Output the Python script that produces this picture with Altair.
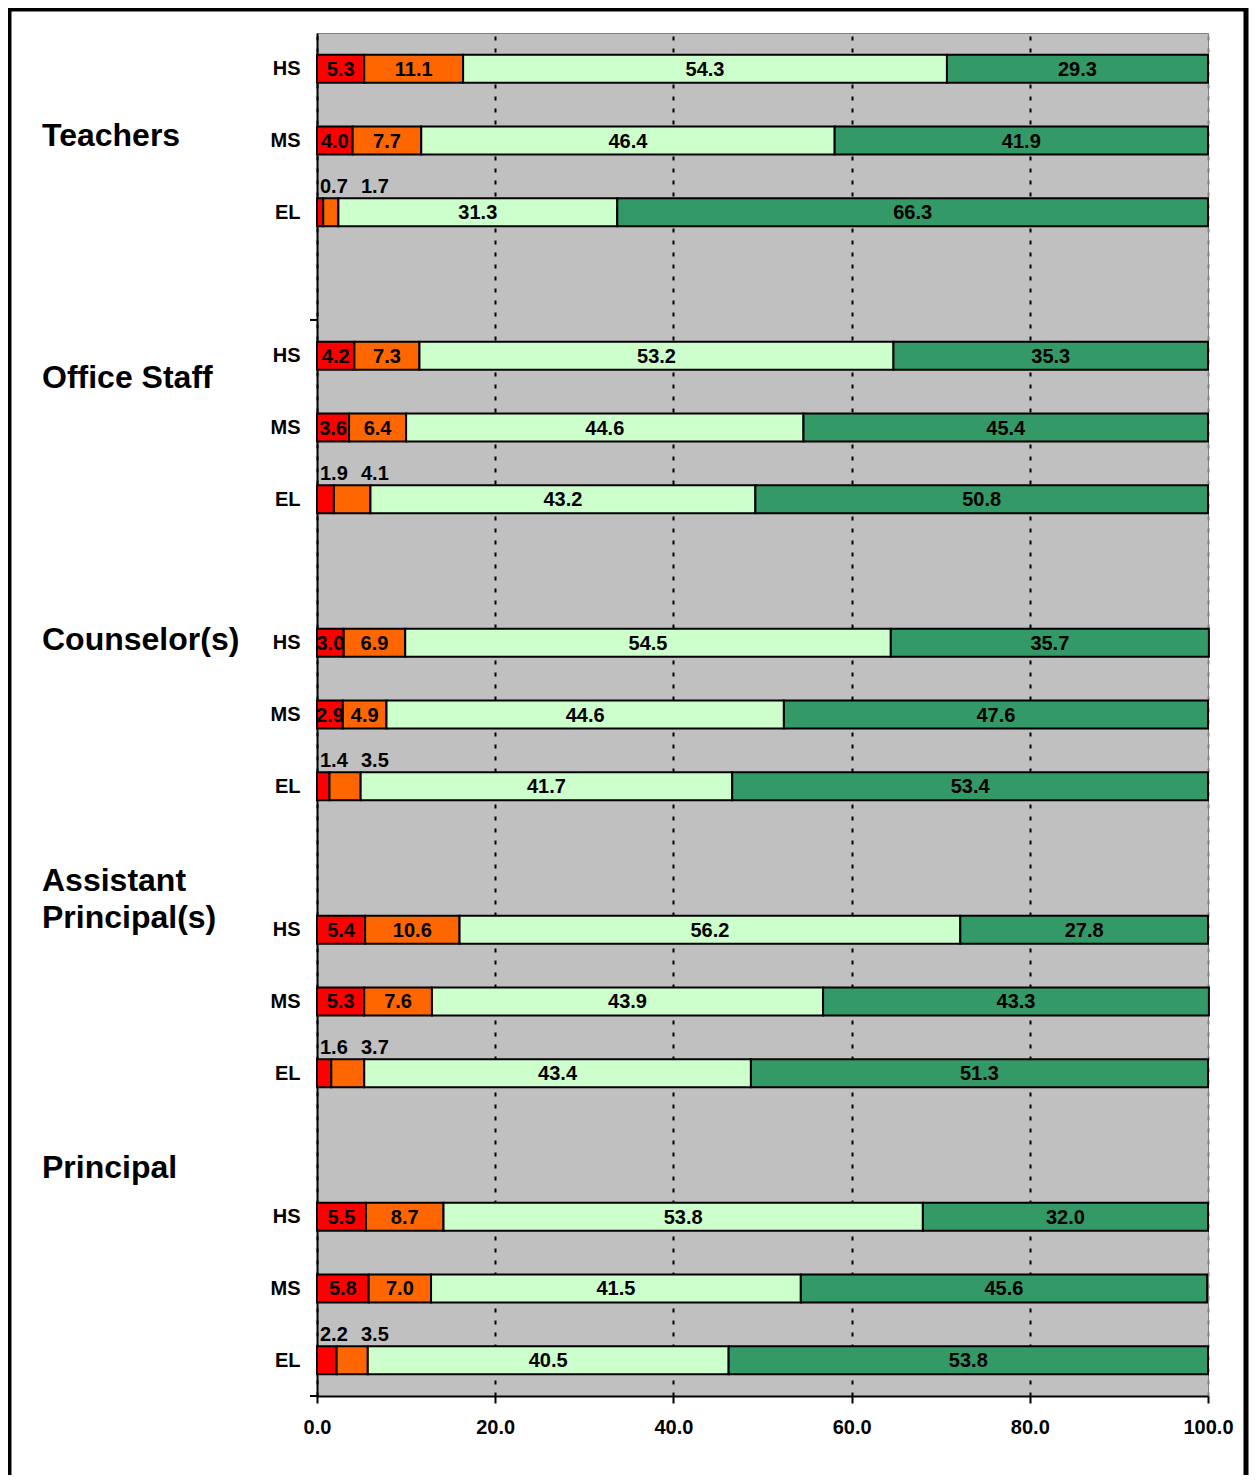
import altair as alt
import pandas as pd

FONT = "Liberation Sans"

groups = ["Teachers", "Office Staff", "Counselor(s)", "Assistant Principal(s)", "Principal"]
levels = ["HS", "MS", "EL"]
segments = ["Very negative", "Negative", "Positive", "Very positive"]
colors = ["#FF0000", "#FF6600", "#CCFFCC", "#339966"]

# values per segment, rows ordered group by group, HS / MS / EL
red    = [5.3, 4.0, 0.7,  4.2, 3.6, 1.9,  3.0, 2.9, 1.4,  5.4, 5.3, 1.6,  5.5, 5.8, 2.2]
orange = [11.1, 7.7, 1.7, 7.3, 6.4, 4.1,  6.9, 4.9, 3.5,  10.6, 7.6, 3.7, 8.7, 7.0, 3.5]
light  = [54.3, 46.4, 31.3, 53.2, 44.6, 43.2, 54.5, 44.6, 41.7, 56.2, 43.9, 43.4, 53.8, 41.5, 40.5]
dark   = [29.3, 41.9, 66.3, 35.3, 45.4, 50.8, 35.7, 47.6, 53.4, 27.8, 43.3, 51.3, 32.0, 45.6, 53.8]

# vertical slot (category units) of each group title (first line)
group_label_pos = [1.44, 4.81, 8.46, 11.82, 15.82]
group_ticks = [4, 19]

series = [red, orange, light, dark]
rows = []
row_pos = []
row_lab = []
i = 0
for g, grp in enumerate(groups):
    for l, lev in enumerate(levels):
        pos = g * 4 + l + 0.5
        row_pos.append(pos)
        row_lab.append(lev)
        start = 0.0
        for s, seg in enumerate(segments):
            v = series[s][i]
            rows.append({"group": grp, "level": lev, "segment": seg, "seg_idx": s,
                         "value": v, "start": start, "end": start + v,
                         "mid": start + v / 2, "pos": pos})
            start += v
        i += 1
df = pd.DataFrame(rows)

inside = df[~((df["level"] == "EL") & (df["seg_idx"] < 2))]
above1 = df[(df["level"] == "EL") & (df["seg_idx"] == 0)]
above2 = df[(df["level"] == "EL") & (df["seg_idx"] == 1)]

expr = ""
for p, lab in zip(row_pos, row_lab):
    expr += f"datum.value == {p} ? '{lab}' : "
expr += "''"

yscale = alt.Scale(domain=[0, 19], reverse=True, nice=False, zero=False, padding=0)
yaxis = alt.Axis(values=row_pos, labelExpr=expr, ticks=False, grid=False, labelFlush=False,
                 domainColor="black", domainWidth=2, labelFont=FONT, labelFontSize=20,
                 labelFontWeight="bold", labelColor="black", labelPadding=17, title=None)
xscale = alt.Scale(domain=[0, 100], nice=False, zero=True, padding=0)
xaxis = alt.Axis(values=[0, 20, 40, 60, 80, 100], format=".1f", grid=True, labelFlush=False,
                 gridColor={"condition": {"test": "datum.value === 100", "value": "#808080"}, "value": "black"},
                 gridDash=[4, 8], gridWidth=2, tickColor="black", tickSize=7, tickWidth=2,
                 domainColor="black", domainWidth=2, labelFont=FONT, labelFontSize=20,
                 labelFontWeight="bold", labelColor="black", labelPadding=14, title=None)


def X(f):
    return alt.X(f, type="quantitative", scale=xscale, axis=xaxis)


def Y(f):
    return alt.Y(f, type="quantitative", scale=yscale, axis=yaxis)


bars = alt.Chart(df).mark_bar(orient="horizontal", size=28, stroke="black", strokeWidth=2).encode(
    x=X("start"), x2="end", y=Y("pos"),
    color=alt.Color("segment:N", scale=alt.Scale(domain=segments, range=colors), legend=None),
)

lab_in = alt.Chart(inside).mark_text(font=FONT, fontSize=20, fontWeight="bold", color="black",
                                     align="center", baseline="middle", dy=1).encode(
    x=X("mid"), y=Y("pos"), text=alt.Text("value:Q", format=".1f"))

lab_a1 = alt.Chart(above1).mark_text(font=FONT, fontSize=20, fontWeight="bold", color="black",
                                     align="left", baseline="middle", dx=3, dy=-25).encode(
    x=alt.value(0), y=Y("pos"), text=alt.Text("value:Q", format=".1f"))

lab_a2 = alt.Chart(above2).mark_text(font=FONT, fontSize=20, fontWeight="bold", color="black",
                                     align="left", baseline="middle", dx=44, dy=-25).encode(
    x=alt.value(0), y=Y("pos"), text=alt.Text("value:Q", format=".1f"))

gdf = pd.DataFrame({"label": [g.replace("Assistant ", "Assistant\n") for g in groups],
                    "pos": group_label_pos})
glabels = alt.Chart(gdf).mark_text(font=FONT, fontSize=32, fontWeight="bold", color="black",
                                   align="left", baseline="middle", lineBreak="\n",
                                   lineHeight=37).encode(
    x=alt.value(-275), y=Y("pos"), text="label:N")

tdf = pd.DataFrame({"pos": group_ticks})
gticks = alt.Chart(tdf).mark_rule(color="black", strokeWidth=2).encode(
    x=alt.value(-7), x2=alt.value(0), y=Y("pos"))

frame = alt.Chart(alt.Data(values=[{"a": 1}])).mark_rect(
    fillOpacity=0, stroke="black", strokeWidth=5).encode(
    x=alt.value(-308), x2=alt.value(929), y=alt.value(-24), y2=alt.value(1480))

chart = alt.layer(bars, lab_in, lab_a1, lab_a2, glabels, gticks, frame).properties(
    width=891, height=1363,
    padding={"left": 309, "top": 25, "right": 41, "bottom": 79},
    autosize=alt.AutoSizeParams(type="none"),
).configure(background="white").configure_view(fill="#C0C0C0", stroke="#808080", strokeWidth=1)

chart.save("out.html", embed_options={"renderer": "svg", "actions": False})
